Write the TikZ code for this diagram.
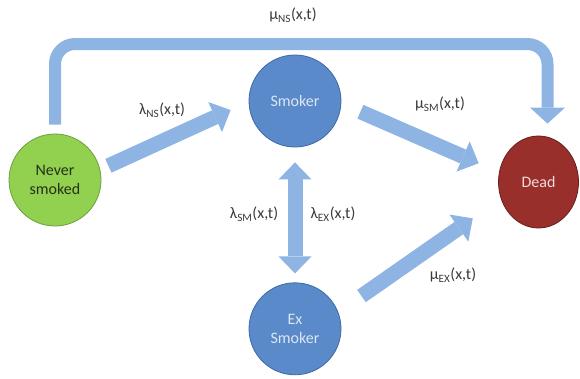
\documentclass[tikz,border=0pt]{standalone}
\usepackage{fontspec}
\setmainfont{Carlito}
\usepackage{tikz}
\usetikzlibrary{arrows.meta,positioning,shapes.geometric}
\definecolor{flowblue}{HTML}{8DB4E2}
\definecolor{smokeblue}{HTML}{5A8AC9}
\definecolor{smokeedge}{HTML}{3E6AA6}
\definecolor{smoketext}{HTML}{DCE6F2}
\definecolor{nevergreen}{HTML}{92D050}
\definecolor{neveredge}{HTML}{6F9E3E}
\definecolor{nevertext}{HTML}{26301A}
\definecolor{deadred}{HTML}{982F2B}
\definecolor{deadedge}{HTML}{6A1F1C}
\definecolor{deadtext}{HTML}{F2DCDB}
\definecolor{ratetext}{HTML}{3A3A3A}
\tikzset{
  statenode/.style={circle, minimum size=92pt, inner sep=1pt, align=center, line width=0.8pt, font=\fontsize{16}{19}\selectfont},
  flow/.style={-{Triangle[width=33pt, length=17pt, line width=0pt]}, line width=15pt, draw=flowblue},
  twoflow/.style={{Triangle[width=33pt, length=17pt, line width=0pt]}-{Triangle[width=33pt, length=17pt, line width=0pt]}, line width=15pt, draw=flowblue},
  bentflow/.style={-{Triangle[width=35pt, length=16pt, line width=0pt]}, line width=12pt, draw=flowblue, rounded corners=20pt},
  ratelabel/.style={font=\fontsize{16}{19}\selectfont, text=ratetext, inner sep=1pt}
}
\newcommand{\rate}[2]{#1\textsubscript{#2}(x,t)}

\begin{document}
\begin{tikzpicture}[x=1pt, y=1pt]
  \useasboundingbox (0,0) rectangle (580,-378);
  \node[statenode, fill=smokeblue, draw=smokeedge, text=smoketext] (sm) at (295,-101) {Smoker};
  \node[statenode, fill=smokeblue, draw=smokeedge, text=smoketext, below=135pt of sm] (ex) {Ex\\Smoker};
  \node[statenode, fill=nevergreen, draw=neveredge, text=nevertext] (ns) at (55,-180) {Never\\smoked};
  \node[statenode, ellipse, minimum width=80pt, minimum height=92pt, fill=deadred, draw=deadedge, text=deadtext] (dd) at (538.5,-182) {Dead};
  \coordinate (ceil) at (295,-44);

  \node[ratelabel] (mns) at (293,-15) {\rate{μ}{NS}};
  \node[ratelabel] (lns) at (162,-110) {\rate{λ}{NS}};
  \node[ratelabel] (msm) at (440,-104) {\rate{μ}{SM}};
  \node[ratelabel] (lsm) at (254,-214) {\rate{λ}{SM}};
  \node[ratelabel] (lex) at (333,-214) {\rate{λ}{EX}};
  \node[ratelabel] (mex) at (453,-275) {\rate{μ}{EX}};

  \draw[bentflow, shorten <=9pt, shorten >=12pt] (ns.north) |- (ceil) -| ([xshift=9pt]dd.north);
  \draw[flow, shorten <=9pt, shorten >=19.8pt] (ns.13) -- (sm.181);
  \draw[flow, shorten <=20.8pt, shorten >=22.2pt] (sm.-3.4) -- (dd.166.9);
  \draw[flow, shorten <=28.2pt, shorten >=34.2pt] (ex.21.7) -- (dd.204);
  \draw[twoflow, shorten <=15pt, shorten >=9pt] (sm.south) -- (ex.north);
\end{tikzpicture}
\end{document}
